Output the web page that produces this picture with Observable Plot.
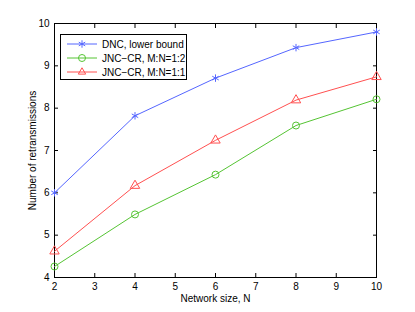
<!DOCTYPE html>
<html><head><meta charset="utf-8">
<script src="https://cdn.jsdelivr.net/npm/d3@7"></script>
<script src="https://cdn.jsdelivr.net/npm/@observablehq/plot@0.6"></script>
<style>
body{margin:0;background:#fff;}
#wrap{position:relative;width:415px;height:312px;font-family:"Liberation Sans",Arial,sans-serif;}
#legend{position:absolute;left:60px;top:34px;}
</style></head><body><div id="wrap"></div>
<script>
const networkSize = [2, 4, 6, 8, 10];
const dncLowerBound = [6.0, 7.82, 8.71, 9.43, 9.80];
const jncCr12 = [4.26, 5.49, 6.43, 7.59, 8.21];
const jncCr11 = [4.62, 6.17, 7.24, 8.19, 8.74];
const seriesNames = ["DNC, lower bound", "JNC\u2212CR, M:N=1:2", "JNC\u2212CR, M:N=1:1"];
const seriesColors = ["#5566ff", "#55c433", "#ff5050"];
const seriesSymbols = ["asterisk", "circle", "triangle"];
const xTicks = [2, 3, 4, 5, 6, 7, 8, 9, 10];
const yTicks = [4, 5, 6, 7, 8, 9, 10];
const xLabel = "Network size, N";
const yLabel = "Number of retransmissions";

const seriesValues = [dncLowerBound, jncCr12, jncCr11];
const data = seriesValues.flatMap((vals, s) =>
  vals.map((v, i) => ({series: seriesNames[s], x: networkSize[i], y: v})));

const font = "Liberation Sans, Arial, sans-serif";
const chart = Plot.plot({
  width: 415, height: 312,
  marginLeft: 54, marginRight: 39, marginTop: 23, marginBottom: 35,
  style: {fontFamily: font, fontSize: "10px", color: "#000", background: "#fff"},
  x: {domain: [2, 10]},
  y: {domain: [4, 10]},
  color: {domain: seriesNames, range: seriesColors},
  symbol: {domain: seriesNames, range: seriesSymbols},
  marks: [
    Plot.frame({stroke: "#000", strokeWidth: 1}),
    Plot.axisX(xTicks, {anchor: "bottom", tickSize: -4, tickPadding: 9, label: null, fontSize: 10}),
    Plot.axisX(xTicks, {anchor: "top", tickSize: -4, text: null, label: null}),
    Plot.axisY(yTicks, {anchor: "left", tickSize: -4, tickPadding: 9, label: null, fontSize: 10}),
    Plot.axisY(yTicks, {anchor: "right", tickSize: -4, text: null, label: null}),
    Plot.line(data, {x: "x", y: "y", stroke: "series", z: "series", strokeWidth: 1}),
    Plot.dot(data, {x: "x", y: "y", stroke: "series", symbol: "series", r: 3.5, strokeWidth: 1, fill: "none"}),
    Plot.text([xLabel], {frameAnchor: "bottom", dy: 21, fontSize: 10, lineAnchor: "middle", textAnchor: "middle"}),
    Plot.text([yLabel], {frameAnchor: "left", dx: -22, rotate: -90, fontSize: 10, textAnchor: "middle", lineAnchor: "middle"})
  ]
});
document.getElementById("wrap").appendChild(chart);

// Legend overlay
const lg = d3.select("#wrap").append("svg").attr("id", "legend")
  .attr("width", 128).attr("height", 47)
  .style("font-family", font).style("font-size", "10px");
lg.append("rect").attr("x", 0.5).attr("y", 0.5).attr("width", 126).attr("height", 45)
  .attr("fill", "#fff").attr("stroke", "#000");
const symMap = {asterisk: d3.symbolAsterisk, circle: d3.symbolCircle, triangle: d3.symbolTriangle2};
seriesNames.forEach((name, i) => {
  const y = 10 + i * 14;
  const g = lg.append("g");
  g.append("line").attr("x1", 7).attr("x2", 37).attr("y1", y).attr("y2", y)
    .attr("stroke", seriesColors[i]).attr("stroke-width", 1);
  g.append("path").attr("d", d3.symbol(symMap[seriesSymbols[i]], Math.PI * 3.5 * 3.5)())
    .attr("transform", `translate(22,${y})`).attr("fill", "none").attr("stroke", seriesColors[i]);
  g.append("text").attr("x", 42).attr("y", y).attr("dy", "0.35em").text(name);
});
</script>
</body></html>
